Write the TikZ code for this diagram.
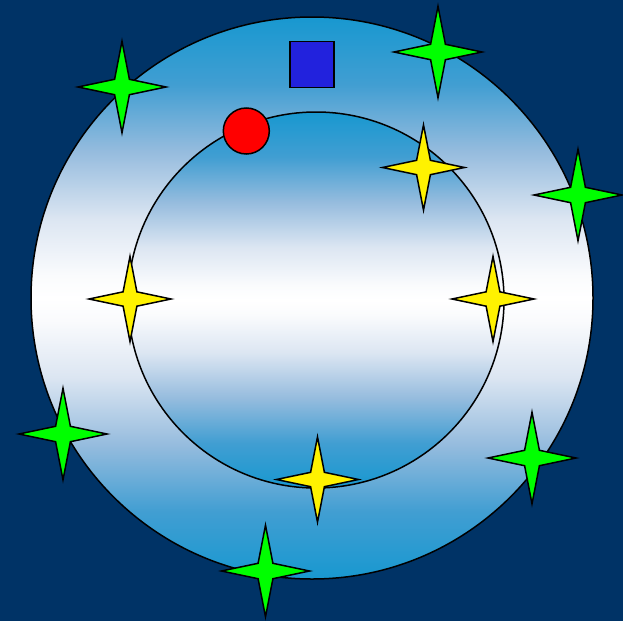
\documentclass[tikz,border=0pt]{standalone}
\usepackage{tikz}
\usetikzlibrary{shapes.geometric}

\definecolor{nightblue}{RGB}{0,51,102}
\definecolor{ringblue}{RGB}{24,152,208}
\definecolor{fadeA}{RGB}{65,158,210}
\definecolor{fadeB}{RGB}{150,188,222}
\definecolor{fadeC}{RGB}{220,230,242}
\definecolor{fadeD}{RGB}{250,251,253}
\definecolor{boxblue}{RGB}{34,34,221}

\pgfdeclareverticalshading{ringfade}{100bp}{%
  color(0bp)=(ringblue); color(25bp)=(ringblue); color(31bp)=(fadeA);
  color(37bp)=(fadeB); color(43bp)=(fadeC); color(48bp)=(fadeD); color(50bp)=(white);
  color(52bp)=(fadeD); color(57bp)=(fadeC); color(63bp)=(fadeB);
  color(69bp)=(fadeA); color(75bp)=(ringblue); color(100bp)=(ringblue)}

\begin{document}
\begin{tikzpicture}[
  x=1pt, y=-1pt,
  ring/.style={draw, line width=1.5pt, shading=ringfade},
  sparkle/.style={draw, line width=1.5pt, star, star points=4, star point ratio=4.2, inner sep=0pt, yscale=1.04},
  greenstar/.style={sparkle, fill=green, minimum size=88pt},
  yellowstar/.style={sparkle, fill=yellow, minimum size=82pt},
]

% background and frame
\fill[nightblue] (0,0) rectangle (623,621);
\useasboundingbox (0,0) rectangle (623,621);

% the two rings
\path[ring] (312,298) circle[radius=281];
\path[ring] (316,300) circle[radius=188];

% outer stars
\node[greenstar] (g1) at (122,87) {};
\node[greenstar] (g2) at (438,52) {};
\node[greenstar] (g3) at (578,195) {};
\node[greenstar] (g4) at (63,434) {};
\node[greenstar] (g5) at (532,458) {};
\node[greenstar] (g6) at (265.5,571) {};

% inner stars
\node[yellowstar] (y1) at (423.5,167.5) {};
\node[yellowstar] (y2) at (130,299) {};
\node[yellowstar] (y3) at (493,299) {};
\node[yellowstar] (y4) at (317.5,479.5) {};

% ball and box
\node[draw, line width=1.5pt, circle, fill=red, inner sep=0pt, minimum size=46pt] (ball) at (246.3,131) {};
\node[draw, line width=1.5pt, rectangle, fill=boxblue, inner sep=0pt, minimum width=44pt, minimum height=46pt] (box) at (311.8,64.7) {};

\end{tikzpicture}
\end{document}
